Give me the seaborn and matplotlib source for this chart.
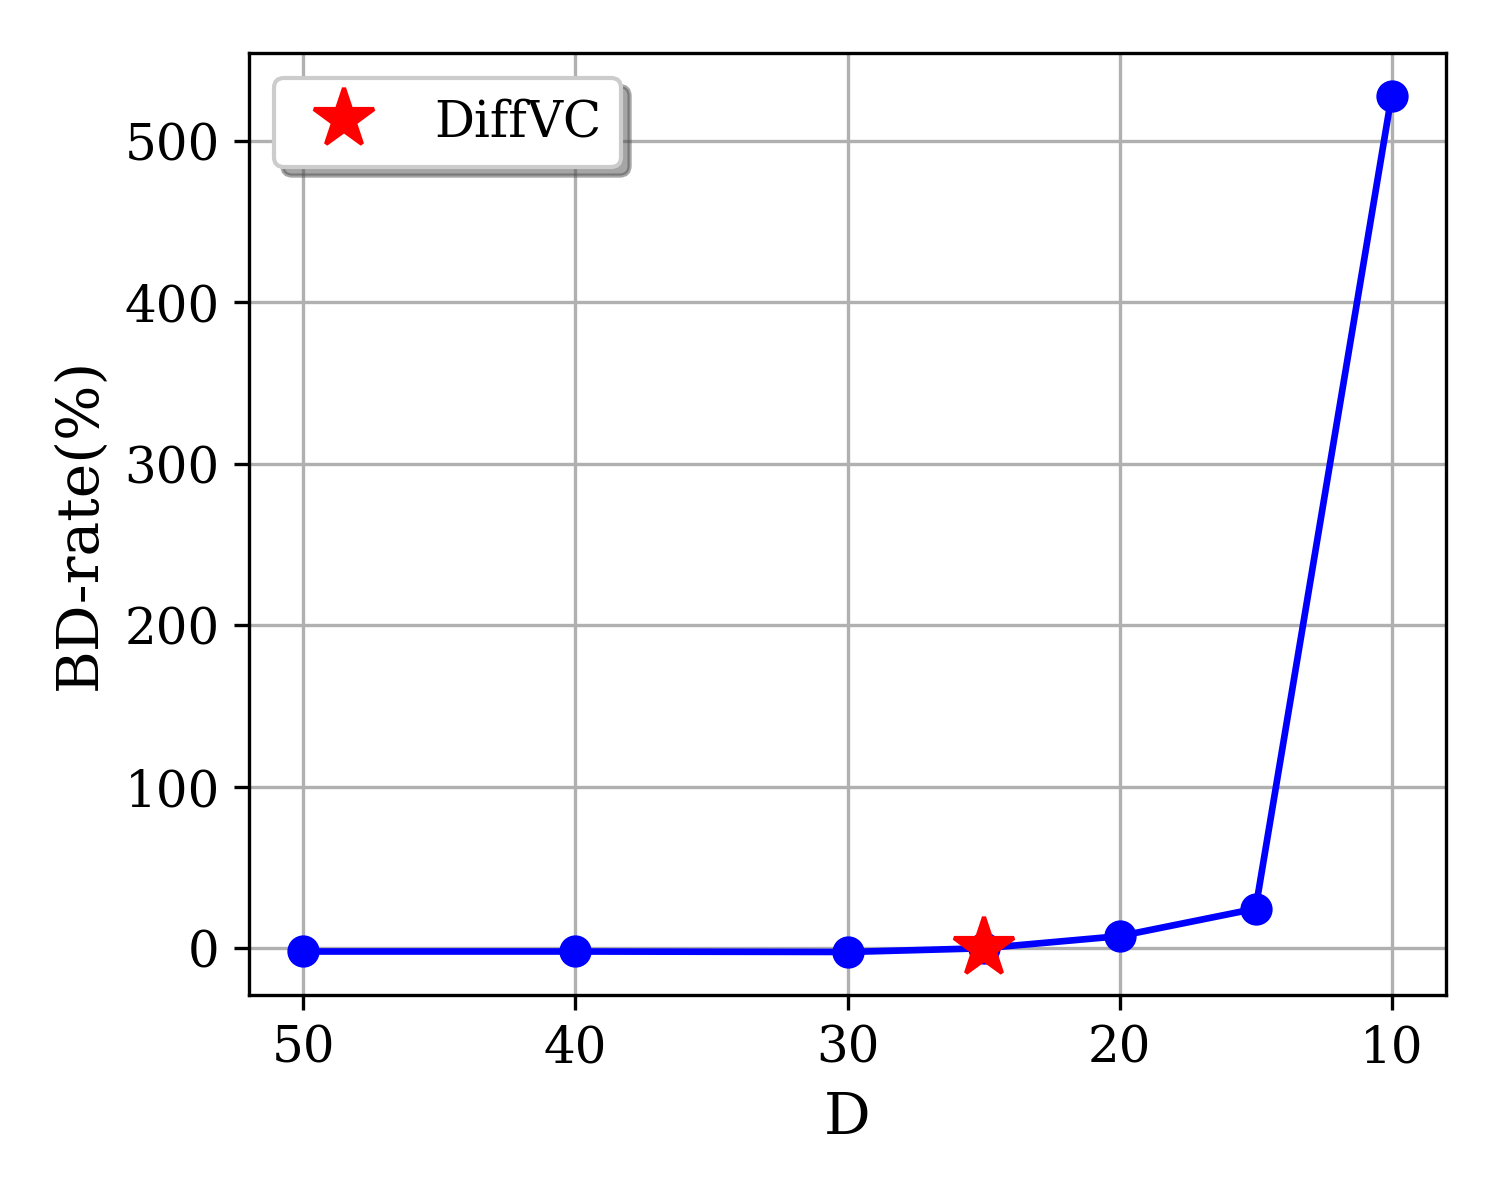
import matplotlib
matplotlib.use("Agg")
import matplotlib.pyplot as plt
import seaborn as sns
import pandas as pd

plt.rcParams['font.family'] = ['DejaVu Serif']

d_values = [50, 40, 30, 25, 20, 15, 10]
bd_rate = [-2.0, -2.0, -2.3, 0.0, 7.5, 24.5, 528.0]
star_d = [25]
star_bd = [0.0]
star_label = "DiffVC"

df = pd.DataFrame({"D": d_values, "BD": bd_rate})
df_star = pd.DataFrame({"D": star_d, "BD": star_bd})

fig = plt.figure(figsize=(5, 4), dpi=300)
ax = fig.add_axes([0.166, 0.171, 0.798, 0.785])

sns.lineplot(data=df, x="D", y="BD", ax=ax, color="blue", marker="o",
             markersize=7, linewidth=1.6, markeredgecolor="blue", sort=False,
             legend=False)
ax.plot(df_star["D"], df_star["BD"], linestyle="none", marker="*", color="red",
        markersize=15, label=star_label, zorder=5)

ax.invert_xaxis()
ax.grid(True, color="#b0b0b0", linewidth=0.8)
ax.set_axisbelow(True)
ax.set_xticks([50, 40, 30, 20, 10])
ax.set_yticks([0, 100, 200, 300, 400, 500])
ax.tick_params(labelsize=12)
ax.set_xlabel("D", fontsize=14)
ax.set_ylabel("BD-rate(%)", fontsize=14)
ax.legend(loc="upper left", fontsize=12, shadow=True, fancybox=True)

fig.savefig("out.png", dpi=300)
